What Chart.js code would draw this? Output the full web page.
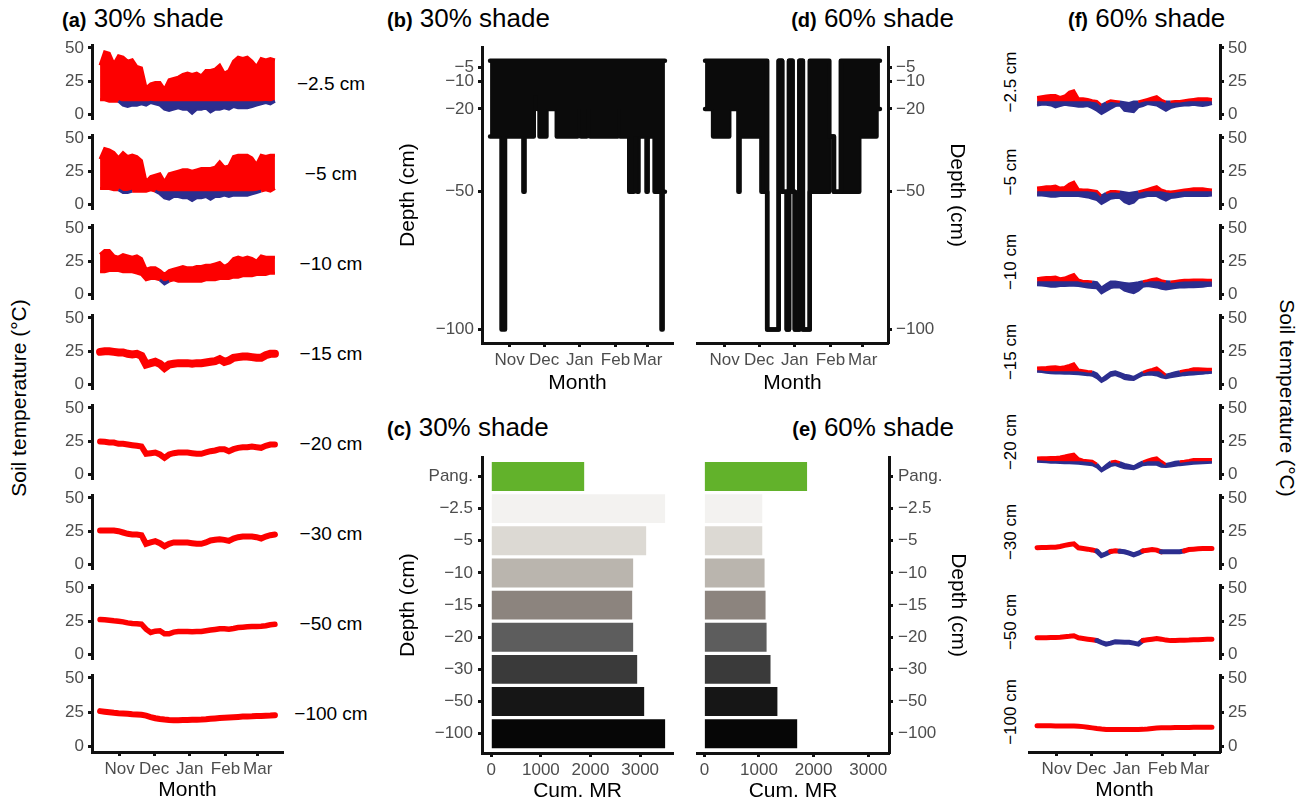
<!DOCTYPE html>
<html>
<head>
<meta charset="utf-8">
<script src="https://cdn.jsdelivr.net/npm/chart.js@4.4.1/dist/chart.umd.min.js"></script>
<style>
  body { margin: 0; width: 1309px; height: 804px; position: relative; overflow: hidden; background: #fff;
         font-family: "Liberation Sans", Arial, Helvetica, sans-serif; color: #000; }
  canvas { position: absolute; }
  .t { position: absolute; font-size: 26px; line-height: 1; white-space: nowrap; }
  .t b { font-size: 20px; }
  .lbl { position: absolute; white-space: nowrap; line-height: 1; }
</style>
</head>
<body>
<div class="t" style="left:62px;top:5px"><b>(a)</b> 30% shade</div>
<div class="t" style="left:387px;top:5px"><b>(b)</b> 30% shade</div>
<div class="t" style="right:355px;top:5px;text-align:right"><b>(d)</b> 60% shade</div>
<div class="t" style="left:387px;top:414px"><b>(c)</b> 30% shade</div>
<div class="t" style="right:355px;top:414px;text-align:right"><b>(e)</b> 60% shade</div>
<div class="t" style="left:1068px;top:5px"><b>(f)</b> 60% shade</div>
<div id="labels"></div>

<script>
// --- shared axes -----------------------------------------------------------
// day 0 = 1 Oct; sampled every 4 days from mid Oct to mid Mar
const days = [14,18,22,26,30,34,38,42,46,50,54,58,62,66,70,74,78,82,86,90,94,98,102,106,110,114,118,122,126,130,134,138,142,146,150,154,158,162,166];
const monthDays = [31, 61, 92, 123, 151];
const monthLabels = ['Nov', 'Dec', 'Jan', 'Feb', 'Mar'];
const tempTicks = [0, 25, 50];
const depthTicks = [-5, -10, -20, -50, -100];
const mrTicks = [0, 1000, 2000, 3000];
const depthNames = ['\u22122.5 cm', '\u22125 cm', '\u221210 cm', '\u221215 cm', '\u221220 cm', '\u221230 cm', '\u221250 cm', '\u2212100 cm'];
const depthCats = ['Pang.', '\u22122.5', '\u22125', '\u221210', '\u221215', '\u221220', '\u221230', '\u221250', '\u2212100'];
const THRESH = 10;   // colour switch (deg C)

// --- (a) 30% shade soil temperature (daily max / min envelopes, or single trace) ---
const a1Hi = [37,47,46,38,44,43,40,41,36,35,20,23,24,24,19,26,27,28,30,31,30,31,29,33,33,34,37,31,33,40,43,42,43,40,36,42,41,42,41];
const a1Lo = [11,11,10,10,10,7,6,7,7,8,7,9,8,7,4,3,4,5,4,4,1,4,4,5,2,4,4,5,4,6,5,5,5,6,7,8,9,8,10];
const a2Hi = [34,42,41,39,35,39,36,37,36,33,17,21,22,23,17,23,24,25,26,26,25,26,27,27,27,28,32,28,29,36,37,37,37,35,30,37,36,37,37];
const a2Lo = [12,12,12,11,11,9,9,10,10,10,10,11,10,8,5,4,6,6,5,5,3,5,5,6,4,6,6,7,6,7,7,7,7,8,9,10,11,10,12];
const a3Hi = [30,33,33,29,28,30,29,28,29,27,19,20,20,18,15,18,19,20,21,20,20,21,21,22,22,23,24,21,23,27,28,27,28,27,25,29,28,28,28];
const a3Lo = [17,17,18,18,18,17,17,17,16,15,11,12,12,11,8,10,11,10,10,10,10,10,10,11,11,11,12,12,12,13,13,14,14,14,15,15,15,16,16];
const a4 = [24.5,25,25,24.5,24,24,23,22.5,23,21.5,15,16,17,15.5,12.5,15,15.5,16,16,16,15.5,16,16,16.5,17,17.5,19,17,18,20,20.5,21,21,20.5,20,20,22,23,23];
const a5 = [24.8,24.5,24,24,23,23,22.5,22,21.5,21,15.5,16,16.5,15,12.5,15,16,16.5,16.5,16.5,16,15.5,15.5,16.5,17.5,18,19,19,17.5,19,20,20.5,20.5,21,20.5,20,21.5,22.5,22.5];
const a6 = [25.5,25.5,25.5,25.5,25,24,23,22.5,22.5,22,15.5,16.5,17.5,16,13.7,15.5,16.5,16.5,16.5,16.5,16,15.5,15.5,16.5,18,18.5,19,18.5,17.7,19.5,20.5,21,21,21,20.5,19.5,21,22,22.5];
const a7 = [26.2,26,25.7,25.3,25,24.5,23.7,23.2,23,22.7,19,16.5,17.5,17.8,15.5,15.5,16.8,17.2,17.3,17.2,17,17.2,17.3,17.8,18.3,18.8,19.3,19.3,19,19.5,20.2,20.5,20.8,21,21,21.2,21.6,22.3,22.7];
const a8 = [25.8,25.4,25,24.6,24.3,24.1,23.9,23.6,23.4,23.1,22.5,21.5,20.6,20.1,19.7,19.4,19.2,19.2,19.3,19.4,19.5,19.6,19.7,19.9,20.2,20.5,20.8,21,21.2,21.4,21.6,21.8,21.9,22,22.2,22.3,22.5,22.6,22.8];

// --- (f) 60% shade soil temperature ---
const f1Hi = [13,13.5,14,14.5,14.5,13,14,17,18,12,12,11.5,10.5,10,7,9,10.5,10,9.5,9,8.5,9.5,9.5,10.5,11.5,12.5,13.5,11,9.5,9.5,10,10,10.5,11,11.5,12,12,12,11.5];
const f1Lo = [7,7.5,7.5,7,5.5,6.5,7.5,7,6.5,6,6,6.5,5,3,0.5,2.5,4.5,6.5,7,3,2.5,2,5.5,6.5,8,7.5,7,5,3,5,6,6.5,7,7,7.5,7,6.5,7,8];
const f2Hi = [12.5,13,13.5,13.5,14,12.5,13,15.5,17,11.5,11,11,10.5,10,6.5,8.5,10,10,9.5,9,8.5,9,9.5,10.5,11.5,12.5,13.5,11,10,9.5,10,10.5,11,11.5,12,12,12,11.5,11];
const f2Lo = [7,7,6.5,6,6,6.5,6.5,6.5,6.5,6.5,6,5.5,4.5,3.5,0.5,2.5,4.5,5,5,2,0.5,1.5,5,5.5,6.5,6.5,6.5,4.5,3,5,5.5,6,6.5,6.5,6.5,6.5,6.5,6.5,7];
const f3Hi = [12,12.5,13,13,13.3,12,12.5,14,15.2,11,10,10,9.5,9,5,7.5,9.5,9.5,9,8.5,8,8.5,9,9.7,10.5,11.5,12,10.5,9.7,9.5,10,10.5,10.9,10.9,11,11,11,10.9,10.9];
const f3Lo = [7.2,7,6.5,6,6,6.5,6.5,6.8,6.8,6.5,6,5.5,5,4.8,1,3,5,5.6,5.5,3,2,1.2,3,6,6.5,6,5.5,4.5,4,4.5,5,5.5,5.5,5.6,5.6,5.8,6,6.5,6.8];
const f4Hi = [12.6,12.8,13,13.3,13.5,13,13.5,14.5,15.7,11,10.5,10,9.7,8,4,6.5,9,9.7,8.5,7.2,6.5,5.5,7.5,9.2,10.5,11.5,12.6,10,7.2,8,9,9.7,10.5,11,12,12,11.8,11.6,11.6];
const f4Lo = [9.7,9.5,9,8.7,8.5,8.5,8.3,8.2,8,7.8,7.5,7.2,6.8,5,2,4,6.5,7.2,6,4.3,3.8,3.6,5.5,7.2,7.5,7.5,7,5.5,4.8,5.5,6.2,6.8,7.2,7.5,7.7,8,8.3,8.7,9];
const f5Hi = [12.6,12.7,12.8,12.9,13,13.3,14,14.8,15.5,12,10.9,10.5,10.1,8,4,7,9.5,10.1,9,7.7,7,6,8,9.7,11,12,12.6,10,7.7,8.5,9.3,9.8,10.1,10.7,11.4,11.4,11.4,11.4,11.4];
const f5Lo = [9.7,9.5,9.3,9,8.9,8.8,8.7,8.6,8.5,8.2,7.8,7.5,7.2,5.5,2.4,4.5,6.5,7.2,6,4.8,4.5,4.1,5.5,7.2,7.5,7.7,7.5,6,5.8,6.2,6.8,7.2,7.4,7.8,8.2,8.4,8.6,8.8,8.9];
const f6 = [12.6,12.7,12.8,12.9,13,13.5,14.3,15,15.5,12.5,12,11.5,10.9,10,6.6,8,9.8,10.2,9.9,9.5,8.5,7.2,8.5,10.2,10.7,11.2,10.8,9.5,9.5,9.5,9.5,9.6,10.2,11.2,11.5,11.8,12,12,12];
const f7 = [12.5,12.5,12.6,12.7,12.8,13,13.3,13.6,14,12.5,12,11.5,11,10.5,9,7.7,8.5,9.6,9.4,9.2,9.1,8.5,7.8,10.5,11,11.5,12,11.5,10.8,10.4,10.5,10.6,10.7,10.8,11,11.1,11.3,11.4,11.5];
const f8 = [15.2,15.2,15.1,15.1,15,15,15,15,14.9,14.8,14.5,14.1,13.6,13.1,12.7,12.4,12.4,12.4,12.4,12.4,12.4,12.4,12.4,12.5,12.8,13.2,13.5,13.6,13.7,13.7,13.8,13.8,13.9,13.9,14,14,14,14,14];

// --- (b)/(d) depth reached (step envelopes: start day of each step, upper and lower depth) ---
const bDays = [14,24,27,43,44,52,55,57,63,72,90,93,98,101,125,127,135,139,142,143,150,151,157,163,164,166];
const bHi = [-2.5,-2.5,-2.5,-2.5,-2.5,-2.5,-2.5,-2.5,-2.5,-2.5,-2.5,-2.5,-2.5,-2.5,-2.5,-2.5,-2.5,-2.5,-2.5,-2.5,-2.5,-2.5,-2.5,-2.5,-2.5,-2.5];
const bLo = [-30,-100,-30,-50,-30,-15,-20,-30,-20,-30,-20,-30,-20,-30,-20,-30,-50,-30,-50,-30,-50,-30,-50,-100,-50,-50];
const dDays = [14,21,35,43,44,63,68,78,81,85,87,90,92,96,99,105,122,126,132,148,163,166];
const dHi = [-2.5,-2.5,-2.5,-2.5,-2.5,-2.5,-100,-2.5,-50,-100,-2.5,-50,-100,-2.5,-100,-2.5,-30,-50,-2.5,-2.5,-2.5,-2.5];
const dLo = [-20,-30,-20,-50,-30,-50,-100,-2.5,-50,-100,-2.5,-50,-100,-2.5,-100,-50,-30,-50,-50,-30,-20,-20];

// --- (c)/(e) cumulative MR ---
const mr30 = [1872, 3503, 3121, 2859, 2839, 2859, 2940, 3081, 3503];
const mr60 = [1880, 1060, 1060, 1102, 1120, 1139, 1211, 1337, 1699];
const barColors = ['#62b22b', '#f3f2f0', '#dcd9d3', '#bab5ae', '#8c847e', '#5d5d5d', '#3a3a3a', '#161616', '#060606'];

// ---------------------------------------------------------------------------
const RED = '#fd0000';
const BLUE = '#2c2e8f';
const INK = '#0b0b0b';
const AXIS = '#111111';
const TICK = '#4d4d4d';
const NONE = 'rgba(0,0,0,0)';

Chart.defaults.font.family = '"Liberation Sans", Arial, Helvetica, sans-serif';
Chart.defaults.color = TICK;
Chart.defaults.animation = false;
Chart.defaults.responsive = false;
Chart.defaults.devicePixelRatio = 1;
Chart.defaults.plugins.legend.display = false;
Chart.defaults.plugins.tooltip.enabled = false;
Chart.defaults.elements.point.radius = 0;

function makeCanvas(left, top, width, height) {
  const c = document.createElement('canvas');
  c.width = width; c.height = height;
  c.style.left = left + 'px'; c.style.top = top + 'px';
  c.style.width = width + 'px'; c.style.height = height + 'px';
  document.body.appendChild(c);
  return c;
}

const pts = arr => arr.map((v, i) => ({ x: days[i], y: v }));
const stepPts = (xs, ys) => xs.map((x, i) => ({ x: x, y: ys[i] }));
const minus = v => String(v).replace('-', '\u2212');

function axisBase() {
  return {
    border: { display: true, color: AXIS, width: 3 },
    grid: { display: true, drawOnChartArea: false, drawTicks: true, offset: false,
            tickLength: 4, tickWidth: 3, tickColor: AXIS },
    ticks: { color: TICK, font: { size: 17 }, padding: 4, autoSkip: false, maxRotation: 0, minRotation: 0 }
  };
}

function monthAxis(show, height) {
  const a = axisBase();
  Object.assign(a, {
    type: 'linear', min: 7, max: 173, display: show, offset: false,
    afterBuildTicks: s => { s.ticks = monthDays.map(v => ({ value: v })); },
    afterFit: s => { s.height = show ? height : 0; },
    title: { display: true, text: 'Month', color: '#000', font: { size: 21 }, padding: 0 }
  });
  a.ticks.callback = v => monthLabels[monthDays.indexOf(v)];
  a.ticks.padding = 3;
  return a;
}

function valueAxis(pos, width, min, max, ticks, title) {
  const a = axisBase();
  Object.assign(a, {
    type: 'linear', position: pos, min: min, max: max, offset: false,
    afterBuildTicks: s => { s.ticks = ticks.map(v => ({ value: v })); },
    afterFit: s => { s.width = width; }
  });
  a.ticks.callback = v => minus(v);
  if (title) a.title = { display: true, text: title, color: '#000', font: { size: 21 }, padding: 0 };
  return a;
}

// temperature panels ---------------------------------------------------------
function tempPanel(side, row, spec) {
  const areaTop = 43 + 90 * row;
  const last = row === 7;
  const isLeft = side === 'a';
  const c = makeCanvas(isLeft ? 30 : 1021, areaTop - 12, isLeft ? 261 : 239, last ? 142 : 103);
  const hiColor = ctx => (ctx.p0.parsed.y < THRESH && ctx.p1.parsed.y < THRESH) ? BLUE : RED;
  const loColor = ctx => (ctx.p0.parsed.y < THRESH || ctx.p1.parsed.y < THRESH) ? BLUE : RED;
  const datasets = [];
  if (spec.hi) {
    // unstyled envelopes carry the fills (no style splits -> no seams)
    datasets.push({ data: pts(spec.hi), borderWidth: 0, borderColor: NONE, fill: 1, backgroundColor: RED, order: 5 });
    datasets.push({ data: pts(spec.lo), borderWidth: 0, borderColor: NONE, fill: false, order: 4 });
    // blue part of the band: from the lower envelope up to the threshold
    datasets.push({ data: pts(spec.hi.map(v => Math.min(v, THRESH))), borderWidth: 0, borderColor: NONE,
                    fill: { target: 1, above: BLUE, below: NONE }, order: 3 });
    datasets.push({ data: pts(spec.hi), borderColor: RED, borderWidth: spec.w, fill: false, order: 2,
                    segment: { borderColor: hiColor } });
    datasets.push({ data: pts(spec.lo), borderColor: BLUE, borderWidth: spec.w, fill: false, order: 1,
                    segment: { borderColor: loColor } });
  } else {
    datasets.push({
      data: pts(spec.line), borderColor: RED, borderWidth: spec.w, fill: false, borderCapStyle: 'round',
      segment: { borderColor: ctx => (ctx.p0.parsed.y + ctx.p1.parsed.y) / 2 < THRESH ? BLUE : RED }
    });
  }
  new Chart(c, {
    type: 'line',
    data: { datasets: datasets },
    options: {
      layout: { padding: { top: 12, bottom: last ? 0 : 12, left: isLeft ? 0 : 8, right: isLeft ? 8 : 0 } },
      scales: {
        x: monthAxis(last, 51),
        y: valueAxis(isLeft ? 'left' : 'right', isLeft ? 62 : 40, -4, 52, tempTicks)
      }
    }
  });
}

const aSpecs = [
  { hi: a1Hi, lo: a1Lo, w: 3 }, { hi: a2Hi, lo: a2Lo, w: 3 }, { hi: a3Hi, lo: a3Lo, w: 3 },
  { line: a4, w: 8 }, { line: a5, w: 6 }, { line: a6, w: 6 }, { line: a7, w: 5.5 }, { line: a8, w: 6 }
];
const fSpecs = [
  { hi: f1Hi, lo: f1Lo, w: 2.5 }, { hi: f2Hi, lo: f2Lo, w: 2.5 }, { hi: f3Hi, lo: f3Lo, w: 2.5 },
  { hi: f4Hi, lo: f4Lo, w: 2.5 }, { hi: f5Hi, lo: f5Lo, w: 2.5 },
  { line: f6, w: 5 }, { line: f7, w: 5 }, { line: f8, w: 5 }
];
aSpecs.forEach((s, i) => tempPanel('a', i, s));
fSpecs.forEach((s, i) => tempPanel('f', i, s));

// depth step panels ----------------------------------------------------------
function depthPanel(left, xs, hi, lo, pos) {
  const isLeft = pos === 'left';
  const c = makeCanvas(left, 33, isLeft ? 285 : 280, 363);
  // 'before': hold the previous depth until the next change
  const line = { stepped: 'before', borderColor: INK, borderWidth: 4.5,
                 borderJoinStyle: 'round', borderCapStyle: 'round' };
  new Chart(c, {
    type: 'line',
    data: { datasets: [
      Object.assign({ data: stepPts(xs, hi), fill: '+1', backgroundColor: INK }, line),
      Object.assign({ data: stepPts(xs, lo), fill: false }, line)
    ] },
    options: {
      layout: { padding: { top: 10, bottom: 0, left: isLeft ? 0 : 8, right: isLeft ? 8 : 0 } },
      scales: {
        x: monthAxis(true, 53),
        y: valueAxis(pos, isLeft ? 86 : 81, -104.9, 2.4, depthTicks, 'Depth (cm)')
      }
    }
  });
}
depthPanel(396, bDays, bHi, bLo, 'left');
depthPanel(689, dDays, dHi, dLo, 'right');

// cumulative MR bars -----------------------------------------------------------
function mrPanel(left, values, xMin, xMax, pos) {
  const isLeft = pos === 'left';
  const c = makeCanvas(left, 442, isLeft ? 285 : 281, 362);
  const x = valueAxis('bottom', 0, xMin, xMax, mrTicks, null);
  x.afterFit = s => { s.height = 51; };
  x.ticks.callback = v => String(v);
  x.ticks.padding = 3;
  x.title = { display: true, text: 'Cum. MR', color: '#000', font: { size: 21 }, padding: 0 };
  const y = valueAxis(pos, isLeft ? 86 : 81, -0.6, 8.6, depthCats.map((d, i) => i), 'Depth (cm)');
  y.reverse = true;
  y.ticks.callback = v => depthCats[v];
  y.ticks.padding = 5;
  new Chart(c, {
    type: 'bar',
    data: { datasets: [{
      data: values.map((v, i) => ({ x: v, y: i })),
      backgroundColor: barColors, borderWidth: 0, barPercentage: 0.9, categoryPercentage: 1
    }] },
    options: {
      indexAxis: 'y',
      layout: { padding: { top: 10, bottom: 0, left: isLeft ? 0 : 8, right: isLeft ? 8 : 0 } },
      scales: { x: x, y: y }
    }
  });
}
mrPanel(396, mr30, -187, 3662, 'left');
mrPanel(689, mr60, -135, 3380, 'right');

// text labels ------------------------------------------------------------------
const holder = document.getElementById('labels');
function addLabel(text, cx, cy, size, rot) {
  const d = document.createElement('div');
  d.className = 'lbl';
  d.textContent = text;
  d.style.left = cx + 'px';
  d.style.top = cy + 'px';
  d.style.fontSize = size + 'px';
  d.style.transform = 'translate(-50%,-50%)' + (rot ? ' rotate(' + rot + 'deg)' : '');
  holder.appendChild(d);
}
depthNames.forEach((n, i) => {
  addLabel(n, 331, 83 + 90 * i, 19, 0);
  addLabel(n, 1010, 82 + 90 * i, 17, -90);
});
addLabel('Soil temperature (\u00B0C)', 18, 398, 21, -90);
addLabel('Soil temperature (\u00B0C)', 1287, 398, 21, 90);
</script>
</body>
</html>
